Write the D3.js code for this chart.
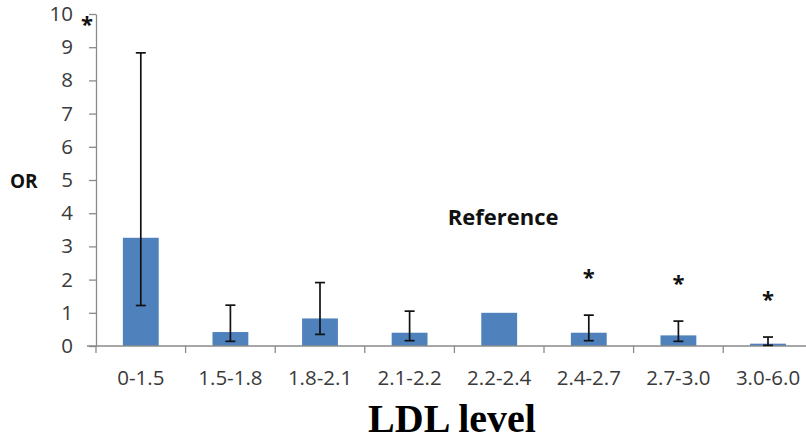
<!DOCTYPE html>
<html>
<head>
<meta charset="utf-8">
<script src="https://cdn.jsdelivr.net/npm/d3@7"></script>
<style>
  html, body { margin: 0; padding: 0; background: #fff; }
  svg { display: block; }
</style>
</head>
<body>
<div id="container"></div>
<script>
const width = 806; // Chart's dimensions
const height = 442;
const marginLeft = 96;
const marginTop = 14;
const plotBottom = 346;

// data
const categories = ["0-1.5", "1.5-1.8", "1.8-2.1", "2.1-2.2", "2.2-2.4", "2.4-2.7", "2.7-3.0", "3.0-6.0"];
const orValues = [3.26, 0.42, 0.83, 0.40, 1.0, 0.40, 0.32, 0.07];
const ciLow = [1.22, 0.14, 0.35, 0.16, null, 0.16, 0.14, 0.02];
const ciHigh = [8.83, 1.23, 1.91, 1.05, null, 0.93, 0.75, 0.27];
const starred = [true, false, false, false, false, true, true, true];
const yTicks = [0, 1, 2, 3, 4, 5, 6, 7, 8, 9, 10];

const rows = categories.map((c, i) => ({
  cat: c, or: orValues[i], lo: ciLow[i], hi: ciHigh[i], star: starred[i]
}));

const svg = d3.select("div#container").append("svg")
  .attr("width", width)
  .attr("height", height)
  .attr("viewBox", [0, 0, width, height]);

const x = d3.scaleBand()
  .domain(categories)
  .range([marginLeft, marginLeft + 8 * 89.6])
  .padding(0);

const y = d3.scaleLinear()
  .domain([0, 10])
  .range([plotBottom, marginTop]);

const barW = x.bandwidth() * 0.4;
const cx = d => x(d) + x.bandwidth() / 2;

// y axis
svg.append("g")
  .attr("transform", `translate(${marginLeft},0)`)
  .call(d3.axisLeft(y).tickValues(yTicks).tickSize(7).tickSizeOuter(0).tickPadding(16))
  .call(g => g.selectAll("line, .domain").attr("stroke", "#8a8a8a").attr("stroke-width", 1.3))
  .call(g => g.selectAll("text")
    .attr("font-family", "'Open Sans', sans-serif")
    .attr("font-size", 20.5)
    .attr("fill", "#3a3a3a"));

// bars
svg.append("g")
  .selectAll("rect")
  .data(rows)
  .join("rect")
  .attr("x", d => cx(d.cat) - barW / 2)
  .attr("y", d => y(d.or))
  .attr("width", barW)
  .attr("height", d => y(0) - y(d.or))
  .attr("fill", "#4f81bd");

// x axis line and boundary ticks
svg.append("line")
  .attr("x1", marginLeft - 9).attr("x2", width)
  .attr("y1", y(0)).attr("y2", y(0))
  .attr("stroke", "#8a8a8a").attr("stroke-width", 1.3);

svg.append("g")
  .selectAll("line")
  .data(categories)
  .join("line")
  .attr("x1", d => x(d)).attr("x2", d => x(d))
  .attr("y1", y(0)).attr("y2", y(0) + 7)
  .attr("stroke", "#8a8a8a").attr("stroke-width", 1.3);

svg.append("g")
  .attr("transform", `translate(0,${y(0)})`)
  .call(d3.axisBottom(x).tickSize(0).tickPadding(24))
  .call(g => g.select(".domain").remove())
  .call(g => g.selectAll("text")
    .attr("font-family", "'Open Sans', sans-serif")
    .attr("font-size", 20.5)
    .attr("fill", "#3a3a3a"));

// error bars
const err = rows.filter(d => d.lo !== null);
const eb = svg.append("g").attr("stroke", "#111").attr("stroke-width", 1.7);
eb.selectAll(".stem")
  .data(err)
  .join("line")
  .attr("x1", d => cx(d.cat)).attr("x2", d => cx(d.cat))
  .attr("y1", d => y(d.lo)).attr("y2", d => y(d.hi));
eb.selectAll(".capHi")
  .data(err)
  .join("line")
  .attr("x1", d => cx(d.cat) - 5).attr("x2", d => cx(d.cat) + 5)
  .attr("y1", d => y(d.hi)).attr("y2", d => y(d.hi));
eb.selectAll(".capLo")
  .data(err)
  .join("line")
  .attr("x1", d => cx(d.cat) - 5).attr("x2", d => cx(d.cat) + 5)
  .attr("y1", d => y(d.lo)).attr("y2", d => y(d.lo));

// significance stars
const starRows = rows.filter(d => d.star);
svg.append("g")
  .selectAll("text")
  .data(starRows)
  .join("text")
  .attr("x", (d, i) => i === 0 ? marginLeft - 9 : cx(d.cat))
  .attr("y", (d, i) => i === 0 ? y(9.45) : y(d.hi) - 30)
  .attr("text-anchor", "middle")
  .attr("font-family", "'Open Sans', sans-serif")
  .attr("font-weight", "bold")
  .attr("font-size", 22)
  .attr("fill", "#111")
  .text("*");

// labels
svg.append("text")
  .attr("x", 10).attr("y", 188)
  .attr("font-family", "'Open Sans', sans-serif")
  .attr("font-weight", "bold")
  .attr("font-size", 19)
  .attr("fill", "#111")
  .text("OR");

svg.append("text")
  .attr("x", cx("2.2-2.4") + 4).attr("y", 225)
  .attr("text-anchor", "middle")
  .attr("font-family", "'Open Sans', sans-serif")
  .attr("font-weight", "bold")
  .attr("font-size", 22)
  .attr("fill", "#111")
  .text("Reference");

svg.append("text")
  .attr("x", 452).attr("y", 432)
  .attr("text-anchor", "middle")
  .attr("font-family", "'Liberation Serif', 'Times New Roman', serif")
  .attr("font-weight", "bold")
  .attr("font-size", 40)
  .attr("fill", "#000")
  .text("LDL level");
</script>
</body>
</html>
